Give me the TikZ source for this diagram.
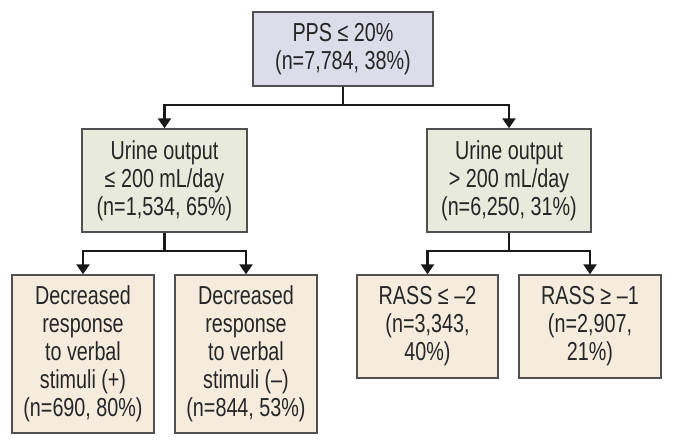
\documentclass[tikz,border=0pt]{standalone}
\usepackage{fontspec}
\setmainfont{Liberation Sans}[FakeStretch=0.76]
\usetikzlibrary{arrows.meta}
\definecolor{topfill}{HTML}{DDDDEA}
\definecolor{midfill}{HTML}{E8EBDC}
\definecolor{botfill}{HTML}{F6ECDE}
\definecolor{boxline}{HTML}{505050}
\definecolor{txt}{HTML}{262626}
\tikzset{
  box/.style={draw=boxline, line width=1.4pt, align=center, inner sep=0pt,
    font=\fontsize{26}{28}\selectfont, text=txt},
  topbox/.style={box, fill=topfill},
  midbox/.style={box, fill=midfill},
  botbox/.style={box, fill=botfill},
  conn/.style={line width=2.8pt, draw=black!90},
  arr/.style={conn, -{Triangle[width=13pt,length=10pt]}}
}
\begin{document}
\begin{tikzpicture}[x=1pt,y=-1pt]
\useasboundingbox (0,0) rectangle (674,446);
\node[topbox, minimum width=180pt, minimum height=74pt] (top) at (343,49) {PPS ≤ 20\%\\(n=7,784, 38\%)};
\node[midbox, minimum width=165pt, minimum height=103pt] (ul) at (164.5,180.5) {Urine output\\≤ 200 mL/day\\(n=1,534, 65\%)};
\node[midbox, minimum width=164pt, minimum height=103pt] (ur) at (509,180.5) {Urine output\\> 200 mL/day\\(n=6,250, 31\%)};
\node[botbox, minimum width=142pt, minimum height=158pt] (b1) at (83,354) {Decreased\\response\\to verbal\\stimuli (+)\\(n=690, 80\%)};
\node[botbox, minimum width=142pt, minimum height=158pt] (b2) at (246,354) {Decreased\\response\\to verbal\\stimuli (–)\\(n=844, 53\%)};
\node[botbox, minimum width=141pt, minimum height=103pt] (b3) at (427.5,326.5) {RASS ≤ –2\\(n=3,343,\\40\%)};
\node[botbox, minimum width=142pt, minimum height=103pt] (b4) at (590,326.5) {RASS ≥ –1\\(n=2,907,\\21\%)};
\coordinate (j0) at (343,105);
\coordinate (j1) at (164.5,251);
\coordinate (j2) at (509,251);
\draw[conn] (top.south) -- (j0);
\draw[arr] (j0) -| (ul.north);
\draw[arr] (j0) -| (ur.north);
\draw[conn] (ul.south) -- (j1);
\draw[arr] (j1) -| (b1.north);
\draw[arr] (j1) -| (b2.north);
\draw[conn] (ur.south) -- (j2);
\draw[arr] (j2) -| (b3.north);
\draw[arr] (j2) -| (b4.north);
\end{tikzpicture}
\end{document}
